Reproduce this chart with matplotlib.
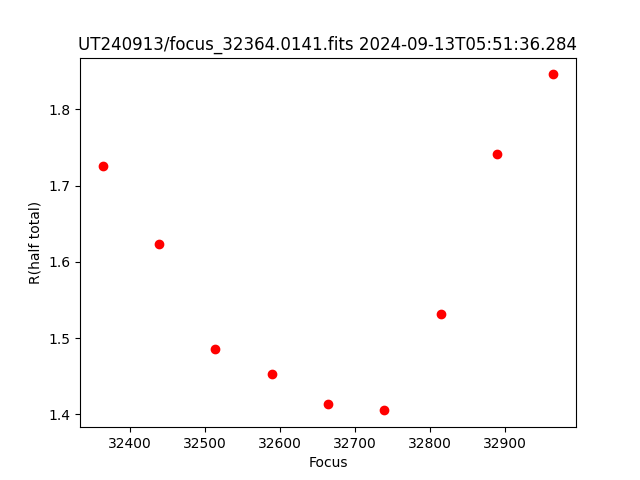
import matplotlib
matplotlib.use("Agg")
import matplotlib.pyplot as plt

# focus positions and half-total radius measured at each
focus = [32364, 32439, 32514, 32589, 32664, 32739, 32814, 32889, 32964]
r_half = [1.726, 1.624, 1.486, 1.453, 1.413, 1.405, 1.531, 1.741, 1.846]

title = "UT240913/focus_32364.0141.fits 2024-09-13T05:51:36.284"

fig = plt.figure(figsize=(6.4, 4.8), dpi=100)
plt.plot(focus, r_half, "ro")
plt.title(title)
plt.xlabel("Focus")
plt.ylabel("R(half total)")
fig.savefig("out.png")
